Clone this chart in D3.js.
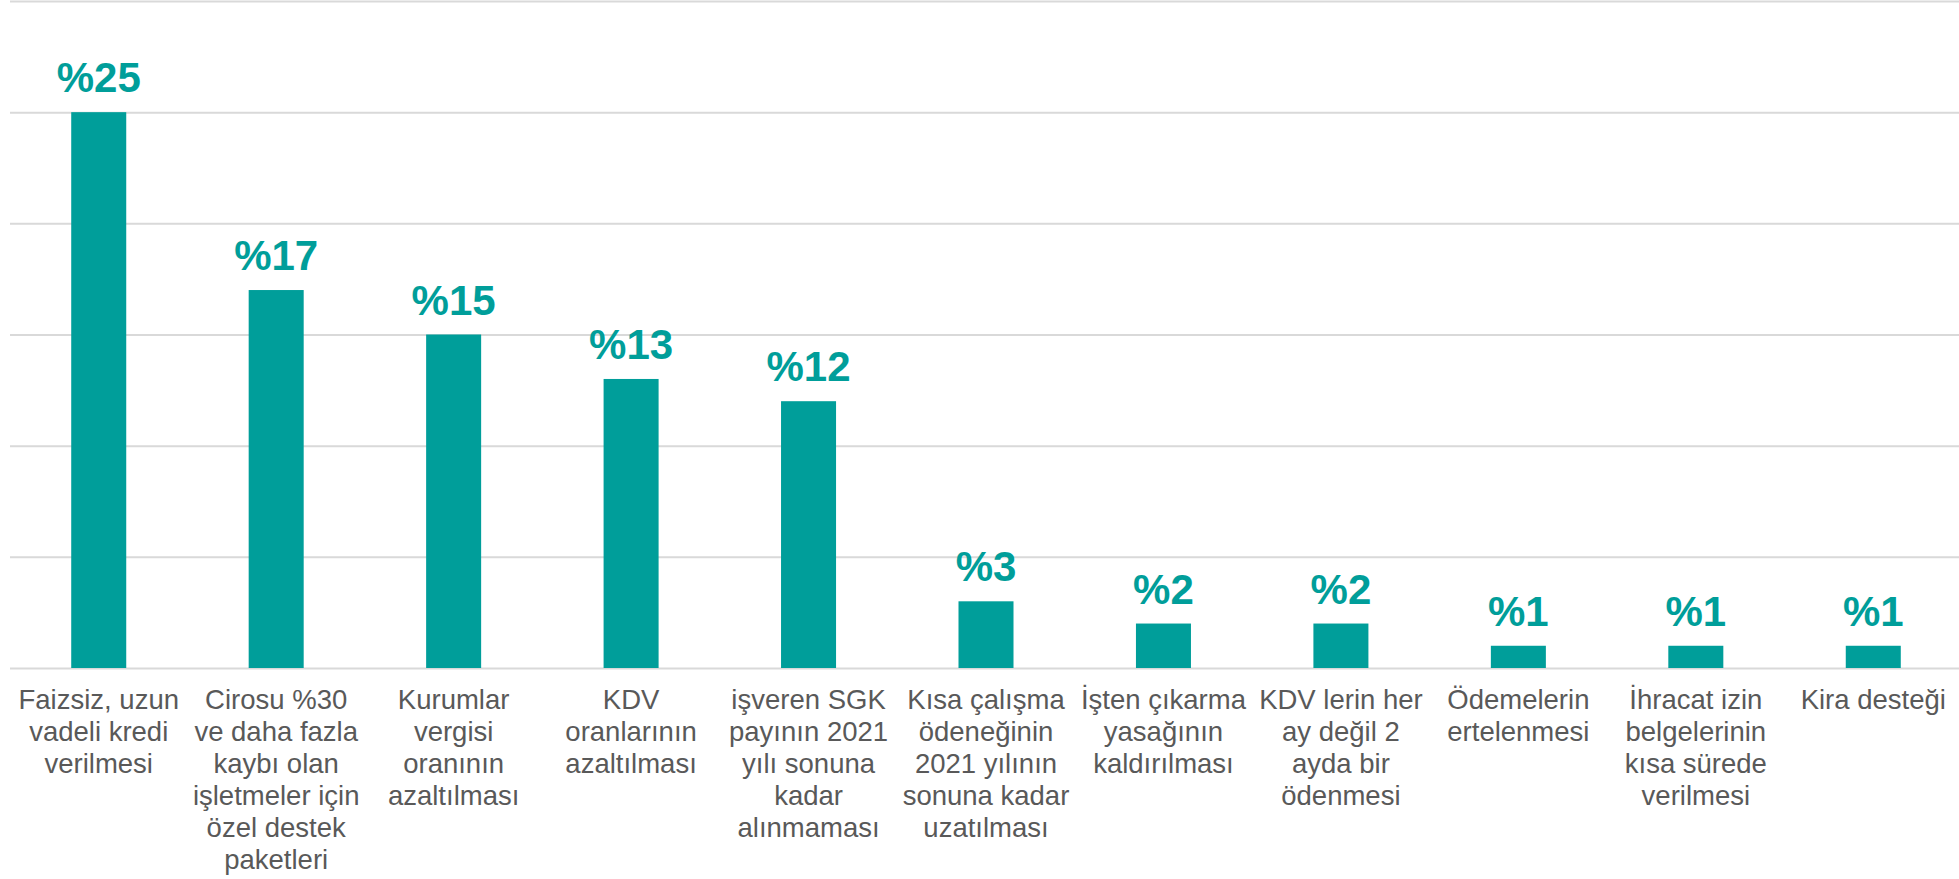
<!DOCTYPE html>
<html lang="tr">
<head>
    <meta charset="UTF-8">
    <title>Destek talepleri</title>
    <script src="https://d3js.org/d3.v7.min.js"></script>
    <style>
        body {
            margin: 0;
            background-color: #ffffff;
            font-family: "Liberation Sans", Arial, sans-serif;
        }
        .grid line {
            stroke: #d9d9d9;
            stroke-width: 2;
        }
        .grid .domain {
            display: none;
        }
        .value-label {
            font-size: 42px;
            font-weight: bold;
            fill: #009e9a;
        }
        .cat-axis text {
            font-size: 27.5px;
            fill: #595959;
            font-family: "Liberation Sans", Arial, sans-serif;
        }
        .cat-axis .domain, .cat-axis line {
            display: none;
        }
    </style>
</head>
<body>
    <svg width="1959" height="879"></svg>
    <script>
        // Category labels (already wrapped as in the original)
        const categories = [
            ["Faizsiz, uzun", "vadeli kredi", "verilmesi"],
            ["Cirosu %30", "ve daha fazla", "kaybı olan", "işletmeler için", "özel destek", "paketleri"],
            ["Kurumlar", "vergisi", "oranının", "azaltılması"],
            ["KDV", "oranlarının", "azaltılması"],
            ["işveren SGK", "payının 2021", "yılı sonuna", "kadar", "alınmaması"],
            ["Kısa çalışma", "ödeneğinin", "2021 yılının", "sonuna kadar", "uzatılması"],
            ["İşten çıkarma", "yasağının", "kaldırılması"],
            ["KDV lerin her", "ay değil 2", "ayda bir", "ödenmesi"],
            ["Ödemelerin", "ertelenmesi"],
            ["İhracat izin", "belgelerinin", "kısa sürede", "verilmesi"],
            ["Kira desteği"]
        ];
        const values = [25, 17, 15, 13, 12, 3, 2, 2, 1, 1, 1];
        const gridTicks = [0, 5, 10, 15, 20, 25, 30];

        const svg = d3.select("svg");

        const x = d3.scaleBand()
                    .domain(d3.range(values.length))
                    .range([10, 1962])
                    .paddingInner(0.69)
                    .paddingOuter(0.345);

        const y = d3.scaleLinear()
                    .domain([0, 30])
                    .range([668, 1]);

        // Horizontal grid lines
        svg.append("g")
           .attr("class", "grid")
           .attr("transform", "translate(10,0)")
           .call(d3.axisLeft(y)
                   .tickValues(gridTicks)
                   .tickSize(-1952)
                   .tickFormat(""));

        // Bars
        svg.selectAll(".bar")
           .data(values)
           .enter()
           .append("rect")
           .attr("class", "bar")
           .attr("x", (d, i) => x(i))
           .attr("y", d => y(d))
           .attr("width", x.bandwidth())
           .attr("height", d => y(0) - y(d))
           .attr("fill", "#009e9a");

        // Value labels
        svg.selectAll(".value-label")
           .data(values)
           .enter()
           .append("text")
           .attr("class", "value-label")
           .attr("x", (d, i) => x(i) + x.bandwidth() / 2)
           .attr("y", d => y(d) - 20)
           .attr("text-anchor", "middle")
           .text(d => "%" + d);

        // Category axis with multi-line labels
        const axis = svg.append("g")
                        .attr("class", "cat-axis")
                        .attr("transform", `translate(0,${y(0)})`)
                        .call(d3.axisBottom(x).tickSize(0).tickFormat(""));

        axis.selectAll(".tick text")
            .attr("y", 0)
            .attr("dy", null)
            .each(function(i) {
                const t = d3.select(this);
                categories[i].forEach((line, k) => {
                    t.append("tspan")
                     .attr("x", 0)
                     .attr("y", 41 + k * 32)
                     .text(line);
                });
            });
    </script>
</body>
</html>
